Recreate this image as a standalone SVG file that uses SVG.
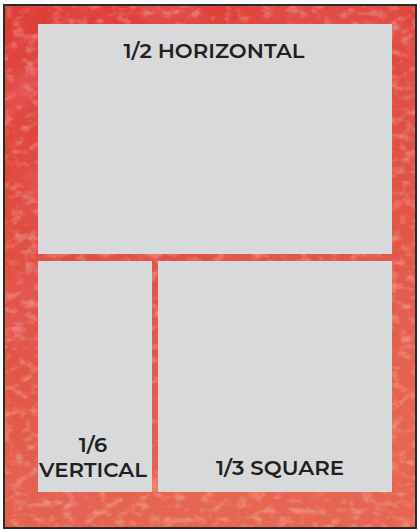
<svg xmlns="http://www.w3.org/2000/svg" width="420" height="531" viewBox="0 0 420 531">
<style>
.panel{fill:#d8d9db}
.lbl{font-family:"Montserrat","Open Sans","Liberation Sans",sans-serif;font-weight:600;font-size:21px;fill:#231f20;text-anchor:middle}
</style>
<defs>
<linearGradient id="bg" x1="0" y1="0" x2="0.3" y2="1">
<stop offset="0" stop-color="#de3c35"/>
<stop offset="0.5" stop-color="#e04f42"/>
<stop offset="1" stop-color="#e66650"/>
</linearGradient>
<filter id="grain" x="0" y="0" width="100%" height="100%">
<feTurbulence type="fractalNoise" baseFrequency="0.08 0.12" numOctaves="4" seed="7" result="n"/>
<feColorMatrix in="n" type="matrix" values="0 0 0 0 1  0 0 0 0 0.8  0 0 0 0 0.75  0 0 0 -3 1.55" result="w"/>
<feComposite in="w" in2="SourceGraphic" operator="in"/>
</filter>
<filter id="dark" x="0" y="0" width="100%" height="100%">
<feTurbulence type="fractalNoise" baseFrequency="0.015" numOctaves="3" seed="3" result="n"/>
<feColorMatrix in="n" type="matrix" values="0 0 0 0 0.8  0 0 0 0 0.12  0 0 0 0 0.14  0 0 0 2.4 -1.1"/>
<feComposite in2="SourceGraphic" operator="in"/>
</filter>
</defs>
<g id="background">
<rect x="4" y="5" width="412" height="523" fill="url(#bg)"/>
<rect x="4" y="5" width="412" height="523" fill="#000" filter="url(#dark)" opacity="0.5"/>
<rect x="4" y="5" width="412" height="523" fill="#000" filter="url(#grain)" opacity="0.3"/>
<rect x="4" y="5" width="412" height="523" fill="none" stroke="#2b2b2b" stroke-width="2"/>
</g>
<g id="half-horizontal">
<rect class="panel" x="38" y="24" width="354" height="230"/>
<text class="lbl" x="214" y="58" textLength="181" lengthAdjust="spacingAndGlyphs">1/2 HORIZONTAL</text>
</g>
<g id="sixth-vertical">
<rect class="panel" x="38" y="261" width="114" height="231"/>
<text class="lbl" x="93" y="452">1/6</text>
<text class="lbl" x="93" y="477" textLength="108" lengthAdjust="spacingAndGlyphs">VERTICAL</text>
</g>
<g id="third-square">
<rect class="panel" x="158" y="261" width="234" height="231"/>
<text class="lbl" x="280" y="475" textLength="128" lengthAdjust="spacingAndGlyphs">1/3 SQUARE</text>
</g>
<g id="connectors"></g>
</svg>
